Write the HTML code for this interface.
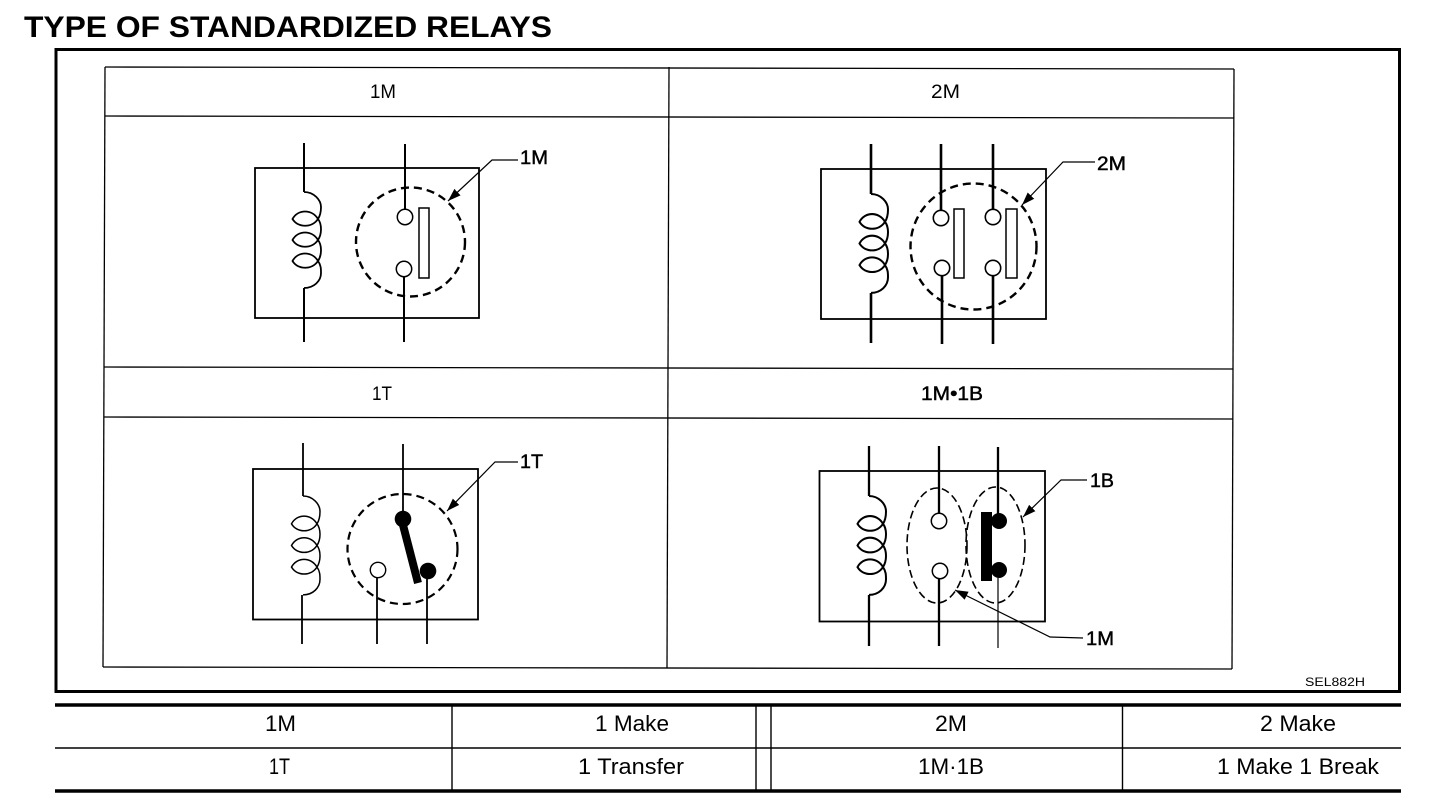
<!DOCTYPE html>
<html>
<head>
<meta charset="utf-8">
<title>Type of standardized relays</title>
<style>
html,body{margin:0;padding:0;background:#fff;width:1440px;height:804px;overflow:hidden}
svg{display:block}
text{font-family:"Liberation Sans",sans-serif;fill:#000}
.h{font-size:19px}
.l{font-size:19px;stroke:#000;stroke-width:.45px}
.t{font-size:22px}
.d{fill:none;stroke:#000}
</style>
</head>
<body>
<svg width="1440" height="804" viewBox="0 0 1440 804" xmlns="http://www.w3.org/2000/svg">
<defs>
<marker id="a" markerUnits="userSpaceOnUse" markerWidth="14" markerHeight="10" refX="13" refY="5" orient="auto">
<path d="M0,0.5 L13,5 L0,9.5 Z" fill="#000"/>
</marker>
<path id="coil" fill="none" stroke="#000" d="M0,0 C10,0 17,8 17,15 C17,20 16,24 14,27 C8,17 -6,17 -11.5,27 C-6,36 8,36 14,27 C18,32 18,42 14,48 C8,38 -6,38 -11.5,48 C-6,57 8,57 14,48 C18,53 18,63 14,69 C8,59 -6,59 -11.5,69 C-6,78 8,78 14,69 C17,73 17,77 17,81 C17,89 10,96 0,96"/>
</defs>

<rect width="1440" height="804" fill="#fff"/>

<text x="24" y="37" font-size="30" font-weight="bold" textLength="528" lengthAdjust="spacingAndGlyphs">TYPE OF STANDARDIZED RELAYS</text>

<rect x="56" y="49.5" width="1343.5" height="642" fill="none" stroke="#000" stroke-width="3"/>

<g stroke="#000" stroke-width="1.3" fill="none">
<path d="M105,67 L1234,69"/>
<path d="M104.5,116 L1234,118"/>
<path d="M104,367 L1233,369"/>
<path d="M103.5,417 L1232.5,419"/>
<path d="M103,667 L1232,669"/>
<path d="M105,67 L103,667"/>
<path d="M669,67 L667,668"/>
<path d="M1234,69 L1232,669"/>
</g>

<text class="h" x="370" y="98" textLength="26" lengthAdjust="spacingAndGlyphs">1M</text>
<text class="h" x="931" y="98" textLength="29" lengthAdjust="spacingAndGlyphs">2M</text>
<text class="h" x="372" y="400" textLength="20" lengthAdjust="spacingAndGlyphs">1T</text>
<text class="l" x="921" y="400" textLength="62" lengthAdjust="spacingAndGlyphs">1M•1B</text>

<!-- 1M -->
<g>
<rect class="d" x="255" y="168" width="224" height="150" stroke-width="1.8"/>
<path class="d" stroke-width="2" d="M304,143V192M304,288V342M405,144V209M404,277V342"/>
<use href="#coil" transform="translate(304,192)" stroke-width="1.8"/>
<circle class="d" cx="410.5" cy="242" r="54.5" stroke-width="2.4" stroke-dasharray="8 5"/>
<circle class="d" cx="405" cy="217" r="7.7" stroke-width="1.5"/>
<circle class="d" cx="404" cy="269" r="7.7" stroke-width="1.5"/>
<rect class="d" x="419" y="208" width="10" height="70" stroke-width="1.5"/>
<polyline class="d" stroke-width="1.2" points="518,160 492,160 448,201" marker-end="url(#a)"/>
<text class="l" x="520" y="164" textLength="28" lengthAdjust="spacingAndGlyphs">1M</text>
</g>

<!-- 2M -->
<g>
<rect class="d" x="821" y="169" width="225" height="150" stroke-width="1.8"/>
<path class="d" stroke-width="2.6" d="M871,144V194M871,293V343M941,144V210M942,276V344M993,144V209M993,276V344"/>
<use href="#coil" transform="translate(871,194) scale(1,1.03)" stroke-width="2"/>
<circle class="d" cx="973.5" cy="246.5" r="63" stroke-width="2.4" stroke-dasharray="8 5"/>
<circle class="d" cx="941" cy="218" r="7.7" stroke-width="1.6"/>
<circle class="d" cx="942" cy="268" r="7.7" stroke-width="1.6"/>
<circle class="d" cx="993" cy="217" r="7.7" stroke-width="1.6"/>
<circle class="d" cx="993" cy="268" r="7.7" stroke-width="1.6"/>
<rect class="d" x="954" y="209" width="10" height="69" stroke-width="1.5"/>
<rect class="d" x="1006" y="209" width="11" height="69" stroke-width="1.5"/>
<polyline class="d" stroke-width="1.2" points="1095,162 1063,162 1022,205" marker-end="url(#a)"/>
<text class="l" x="1097" y="170" textLength="29" lengthAdjust="spacingAndGlyphs">2M</text>
</g>

<!-- 1T -->
<g>
<rect class="d" x="253" y="469" width="225" height="150.5" stroke-width="1.8"/>
<path class="d" stroke-width="1.8" d="M303,443V496M302,595V644M403,444V519M377,578V644M427,571V644"/>
<use href="#coil" transform="translate(303,496) scale(1,1.03)" stroke-width="1.5"/>
<circle class="d" cx="402.5" cy="549" r="55" stroke-width="2.2" stroke-dasharray="8 5"/>
<circle cx="403" cy="519" r="8.3" fill="#000"/>
<circle cx="428" cy="571" r="8.3" fill="#000"/>
<circle class="d" cx="378" cy="570" r="7.7" stroke-width="1.4" fill="#fff"/>
<path d="M403,525 L418,583" stroke="#000" stroke-width="8" fill="none"/>
<polyline class="d" stroke-width="1.2" points="518,462 495,462 447,511" marker-end="url(#a)"/>
<text class="l" x="520" y="468" textLength="23" lengthAdjust="spacingAndGlyphs">1T</text>
</g>

<!-- 1M·1B -->
<g>
<rect class="d" x="819.5" y="471" width="225.5" height="150.5" stroke-width="1.8"/>
<path class="d" stroke-width="2.3" d="M869,446V496M869,595V646M939,446V514M939,579V646M998,447V514"/>
<path class="d" stroke-width="1.2" d="M998,578V648"/>
<use href="#coil" transform="translate(869,496) scale(1,1.03)" stroke-width="2"/>
<ellipse class="d" cx="937" cy="545.5" rx="30" ry="57.5" stroke-width="1.6" stroke-dasharray="8 4"/>
<ellipse class="d" cx="995.5" cy="545" rx="29.5" ry="58" stroke-width="1.6" stroke-dasharray="8 4"/>
<circle class="d" cx="939" cy="521" r="7.7" stroke-width="1.5"/>
<circle class="d" cx="940" cy="571" r="7.7" stroke-width="1.5"/>
<circle cx="999" cy="521" r="8" fill="#000"/>
<circle cx="999" cy="570" r="8" fill="#000"/>
<rect x="981" y="512" width="11" height="69" fill="#000"/>
<polyline class="d" stroke-width="1.2" points="1087,480 1061,480 1023,517" marker-end="url(#a)"/>
<polyline class="d" stroke-width="1.2" points="1083,638 1050,637 955,590" marker-end="url(#a)"/>
<text class="l" x="1090" y="487" textLength="24" lengthAdjust="spacingAndGlyphs">1B</text>
<text class="l" x="1086" y="645" textLength="28" lengthAdjust="spacingAndGlyphs">1M</text>
</g>

<text x="1305" y="686" font-size="12" textLength="60" lengthAdjust="spacingAndGlyphs">SEL882H</text>

<!-- bottom table -->
<g stroke="#000" fill="none">
<path stroke-width="3.4" d="M55,705H1401M55,791H1401"/>
<path stroke-width="1.6" d="M55,748H1401"/>
<path stroke-width="1.4" d="M452,705V791M756,705V791M771,705V791M1122.5,705V791"/>
</g>
<text class="t" x="265" y="731" textLength="31" lengthAdjust="spacingAndGlyphs">1M</text>
<text class="t" x="595" y="731" textLength="74" lengthAdjust="spacingAndGlyphs">1 Make</text>
<text class="t" x="935" y="731" textLength="32" lengthAdjust="spacingAndGlyphs">2M</text>
<text class="t" x="1260" y="731" textLength="76" lengthAdjust="spacingAndGlyphs">2 Make</text>
<text class="t" x="269" y="774" textLength="21" lengthAdjust="spacingAndGlyphs">1T</text>
<text class="t" x="578" y="774" textLength="106" lengthAdjust="spacingAndGlyphs">1 Transfer</text>
<text class="t" x="918" y="774" textLength="66" lengthAdjust="spacingAndGlyphs">1M·1B</text>
<text class="t" x="1217" y="774" textLength="162" lengthAdjust="spacingAndGlyphs">1 Make 1 Break</text>
</svg>
</body>
</html>
